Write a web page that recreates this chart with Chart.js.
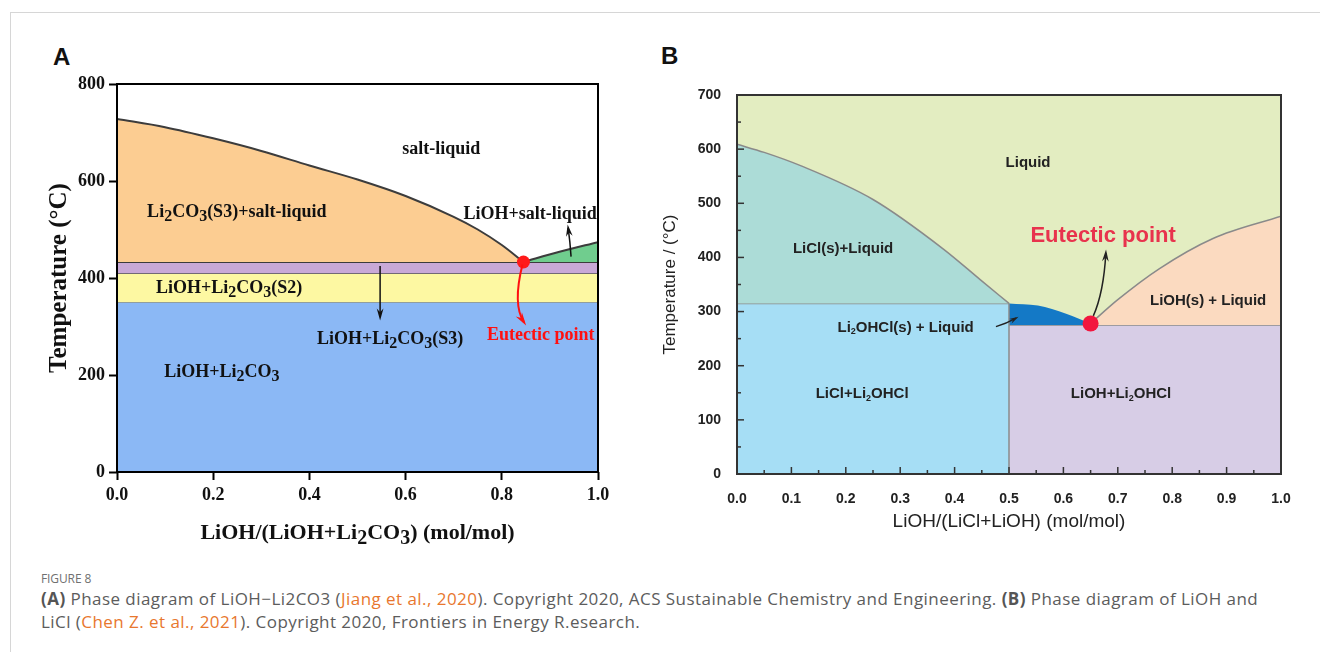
<!DOCTYPE html>
<html>
<head>
<meta charset="utf-8">
<script src="https://cdn.jsdelivr.net/npm/chart.js@4.4.1/dist/chart.umd.min.js"></script>
<style>
body{margin:0;background:#fff;width:1320px;height:652px;position:relative;overflow:hidden;font-family:"Open Sans",sans-serif}
#frame{position:absolute;left:10px;top:12px;right:0;bottom:0;border-left:1px solid #d6d6d6;border-top:1px solid #d6d6d6}
.pl{position:absolute;font:bold 24px "Liberation Sans",Arial,sans-serif;color:#111}
canvas{position:absolute}
#fig{position:absolute;left:41px;top:570px;font-size:12px;color:#707070;letter-spacing:-0.1px}
#cap{position:absolute;left:41px;top:587px;width:1270px;font-size:17px;line-height:23px;color:#5c5c5c;letter-spacing:0.45px;white-space:nowrap}
#cap b{color:#555}
#cap span{color:#e8772e}
</style>
</head>
<body>
<div id="frame"></div>
<div class="pl" style="left:53px;top:43px">A</div>
<div class="pl" style="left:661px;top:42px">B</div>
<canvas id="chartA" width="640" height="520" style="left:0;top:40px"></canvas>
<canvas id="chartB" width="680" height="520" style="left:640px;top:40px"></canvas>
<div id="fig">FIGURE 8</div>
<div id="cap"><b>(A)</b> Phase diagram of LiOH−Li2CO3 (<span>Jiang et al., 2020</span>). Copyright 2020, ACS Sustainable Chemistry and Engineering. <b>(B)</b> Phase diagram of LiOH and<br>LiCl (<span>Chen Z. et al., 2021</span>). Copyright 2020, Frontiers in Energy R.esearch.</div>
<script>
// ---- panel A : LiOH - Li2CO3 ----
const aLiquidusX = [0, 0.1, 0.2, 0.3, 0.4, 0.5, 0.6, 0.7, 0.75, 0.8, 0.845]
const aLiquidusT = [728, 711, 688, 662, 632, 603, 569, 526, 500, 468, 433]
const aLiohX = [0.845, 0.92, 1.0]
const aLiohT = [433, 454, 474]
const aEutectic = [0.845, 433]
const aBands = [350, 410, 433]   // S3 / S2 / transition
const aXTicks = [0, 0.2, 0.4, 0.6, 0.8, 1.0]
const aYTicks = [0, 200, 400, 600, 800]

// ---- panel B : LiOH - LiCl ----
const bLiclX = [0, 0.05, 0.118, 0.25, 0.38, 0.447, 0.5]
const bLiclT = [609, 594, 569, 507, 415, 359, 315]
const bOhclX = [0.5, 0.553, 0.605, 0.65]
const bOhclT = [315, 311, 296, 278]
const bLiohX = [0.65, 0.7, 0.776, 0.875, 1.0]
const bLiohT = [278, 322, 379, 435, 476]
const bEutectic = [0.65, 278]
const bSolidus = [315, 275]      // LiCl+Li2OHCl top, LiOH+Li2OHCl top
const bSplit = 0.5
const bXMax = 1.0, bYMax = 700

const pts = (xs, ys) => xs.map((x, i) => ({x: x, y: ys[i]}))
const flat = (x0, x1, t) => [{x: x0, y: t}, {x: x1, y: t}]

// text with "_c" = subscript c
function rich(ctx, str, x, y, size, family, weight, color, align, sub) {
  sub = sub || 0.82
  const segs = []
  for (let i = 0; i < str.length; i++) {
    if (str[i] == '_') { segs.push([str[i + 1], 1]); i++ }
    else if (segs.length && segs[segs.length - 1][1] == 0) segs[segs.length - 1][0] += str[i]
    else segs.push([str[i], 0])
  }
  const f0 = weight + ' ' + size + 'px ' + family
  const f1 = weight + ' ' + Math.round(size * sub) + 'px ' + family
  let w = 0
  segs.forEach(s => { ctx.font = s[1] ? f1 : f0; w += ctx.measureText(s[0]).width })
  let cx = align == 'left' ? x : x - w / 2
  ctx.fillStyle = color
  ctx.textAlign = 'left'
  ctx.textBaseline = 'middle'
  segs.forEach(s => {
    ctx.font = s[1] ? f1 : f0
    ctx.fillText(s[0], cx, s[1] ? y + size * 0.28 : y)
    cx += ctx.measureText(s[0]).width
  })
}

function arrow(ctx, p0, c, p1, color, lw, head) {
  ctx.save()
  ctx.strokeStyle = color; ctx.fillStyle = color; ctx.lineWidth = lw
  ctx.beginPath(); ctx.moveTo(p0[0], p0[1]); ctx.quadraticCurveTo(c[0], c[1], p1[0], p1[1]); ctx.stroke()
  const ang = Math.atan2(p1[1] - c[1], p1[0] - c[0])
  ctx.beginPath()
  ctx.moveTo(p1[0] + Math.cos(ang) * head * 0.4, p1[1] + Math.sin(ang) * head * 0.4)
  ctx.lineTo(p1[0] - Math.cos(ang - 0.38) * head, p1[1] - Math.sin(ang - 0.38) * head)
  ctx.lineTo(p1[0] - Math.cos(ang) * head * 0.5, p1[1] - Math.sin(ang) * head * 0.5)
  ctx.lineTo(p1[0] - Math.cos(ang + 0.38) * head, p1[1] - Math.sin(ang + 0.38) * head)
  ctx.closePath(); ctx.fill()
  ctx.restore()
}

const serif = '"Liberation Serif","Times New Roman",serif'
const sans = '"Liberation Sans",Arial,sans-serif'

const labelsA = {
  id: 'labelsA',
  afterDraw(chart) {
    const {ctx, chartArea: a, scales: {x, y}} = chart
    const P = (u, t) => [x.getPixelForValue(u), y.getPixelForValue(t)]
    ctx.save()
    ctx.strokeStyle = '#000'; ctx.lineWidth = 2
    ctx.strokeRect(a.left, a.top, a.right - a.left, a.bottom - a.top)
    const L = (s, u, t, c) => { const p = P(u, t); rich(ctx, s, p[0], p[1], 18, serif, 'bold', c || '#111', 'center', 0.9) }
    L('salt-liquid', 0.674, 666)
    L('Li_2CO_3(S3)+salt-liquid', 0.249, 536)
    L('LiOH+salt-liquid', 0.859, 532)
    L('LiOH+Li_2CO_3(S2)', 0.233, 379)
    L('LiOH+Li_2CO_3(S3)', 0.568, 274)
    L('Eutectic point', 0.881, 282, '#ff1010')
    L('LiOH+Li_2CO_3', 0.218, 206)
    arrow(ctx, P(0.547, 425), P(0.547, 375), P(0.547, 320), '#111', 1.5, 9)
    arrow(ctx, P(0.944, 444), P(0.942, 475), P(0.938, 503), '#111', 1.5, 9)
    arrow(ctx, P(0.843, 428), P(0.822, 345), P(0.846, 309), '#ff1010', 2, 10)
    // axis titles
    rich(ctx, 'LiOH/(LiOH+Li_2CO_3) (mol/mol)', (a.left + a.right) / 2, 493, 22, serif, 'bold', '#111', 'center', 0.9)
    ctx.translate(60, (a.top + a.bottom) / 2); ctx.rotate(-Math.PI / 2)
    rich(ctx, 'Temperature (°C)', 0, 0, 25, serif, 'bold', '#111', 'center')
    ctx.restore()
  }
}

const labelsB = {
  id: 'labelsB',
  afterDraw(chart) {
    const {ctx, chartArea: a, scales: {x, y}} = chart
    const P = (u, t) => [x.getPixelForValue(u), y.getPixelForValue(t)]
    ctx.save()
    // inside tick marks
    ctx.strokeStyle = '#333'; ctx.lineWidth = 1.5
    for (let v = 0; v <= bXMax + 1e-9; v += 0.05) {
      const px = x.getPixelForValue(v), big = Math.round(v * 100) % 10 == 0
      ctx.beginPath(); ctx.moveTo(px, a.bottom); ctx.lineTo(px, a.bottom - (big ? 7 : 4)); ctx.stroke()
    }
    for (let v = 0; v <= bYMax; v += 50) {
      const py = y.getPixelForValue(v), big = v % 100 == 0
      ctx.beginPath(); ctx.moveTo(a.left, py); ctx.lineTo(a.left + (big ? 7 : 4), py); ctx.stroke()
    }
    ctx.lineWidth = 2
    ctx.strokeRect(a.left, a.top, a.right - a.left, a.bottom - a.top)
    const L = (s, u, t) => { const p = P(u, t); rich(ctx, s, p[0], p[1], 15, sans, 'bold', '#222', 'center', 0.6) }
    L('Liquid', 0.535, 574)
    L('LiCl(s)+Liquid', 0.195, 416)
    L('LiOH(s) + Liquid', 0.866, 320)
    L('Li_2OHCl(s) + Liquid', 0.31, 270)
    L('LiCl+Li_2OHCl', 0.23, 148)
    L('LiOH+Li_2OHCl', 0.706, 148)
    const e = P(0.673, 440)
    rich(ctx, 'Eutectic point', e[0], e[1], 22, sans, 'bold', '#e8334d', 'center')
    arrow(ctx, P(0.476, 272), P(0.495, 278), P(0.513, 288), '#222', 1.3, 7)
    arrow(ctx, P(0.655, 292), P(0.674, 335), P(0.678, 408), '#222', 1.5, 9)
    // axis titles
    rich(ctx, 'LiOH/(LiCl+LiOH) (mol/mol)', (a.left + a.right) / 2, 482, 19, sans, 'normal', '#222', 'center')
    ctx.translate(30, (a.top + a.bottom) / 2); ctx.rotate(-Math.PI / 2)
    rich(ctx, 'Temperature / (°C)', 0, 0, 17, sans, 'normal', '#222', 'center')
    ctx.restore()
  }
}

const base = {type: 'line', pointRadius: 0, borderWidth: 0, cubicInterpolationMode: 'monotone'}

new Chart(document.getElementById('chartA'), {
  type: 'line',
  data: {datasets: [
    {data: [{x: aEutectic[0], y: aEutectic[1]}], showLine: false, pointRadius: 6.5, pointBackgroundColor: '#ff1a1a', pointBorderWidth: 0},
    {...base, data: pts(aLiohX, aLiohT), fill: {value: aBands[2]}, backgroundColor: '#70cd8e', borderColor: '#3c3c3c', borderWidth: 2},
    {...base, data: pts(aLiquidusX, aLiquidusT), fill: {value: aBands[2]}, backgroundColor: '#fccd92', borderColor: '#3c3c3c', borderWidth: 2},
    {...base, data: flat(0, 1, aBands[2]), fill: {value: aBands[1]}, backgroundColor: '#c9a9d7', borderColor: '#3c3c3c', borderWidth: 2},
    {...base, data: flat(0, 1, aBands[1]), fill: {value: aBands[0]}, backgroundColor: '#fdf8a2', borderColor: '#555', borderWidth: 1.5},
    {...base, data: flat(0, 1, aBands[0]), fill: 'origin', backgroundColor: '#8bb8f5', borderColor: '#5a6a80', borderWidth: 1}
  ]},
  options: {
    responsive: false, animation: false,
    layout: {padding: {top: 44, right: 42, left: 0, bottom: 0}},
    plugins: {legend: {display: false}, tooltip: {enabled: false}},
    scales: {
      x: {type: 'linear', min: 0, max: 1,
        afterFit: s => { s.height = 88 },
        afterBuildTicks: s => { s.ticks = aXTicks.map(v => ({value: v})) },
        ticks: {callback: v => v.toFixed(1), font: {family: serif, weight: 'bold', size: 18}, color: '#111', padding: 5, maxRotation: 0},
        grid: {drawOnChartArea: false, tickLength: 8, tickWidth: 2, tickColor: '#000'},
        border: {display: false}},
      y: {min: 0, max: 800,
        afterFit: s => { s.width = 117 },
        afterBuildTicks: s => { s.ticks = aYTicks.map(v => ({value: v})) },
        ticks: {font: {family: serif, weight: 'bold', size: 18}, color: '#111', padding: 4},
        grid: {drawOnChartArea: false, tickLength: 8, tickWidth: 2, tickColor: '#000'},
        border: {display: false}}
    }
  },
  plugins: [labelsA]
})

new Chart(document.getElementById('chartB'), {
  type: 'line',
  data: {datasets: [
    {data: [{x: bEutectic[0], y: bEutectic[1]}], showLine: false, pointRadius: 8, pointBackgroundColor: '#f2163e', pointBorderWidth: 0},
    {...base, data: [{x: bSplit, y: 0}, {x: bSplit, y: bSolidus[0]}], borderColor: '#8a8a8a', borderWidth: 1.5},
    {...base, data: pts(bLiohX, bLiohT), fill: {value: bSolidus[1]}, backgroundColor: '#fbdac0', borderColor: '#8a8a8a', borderWidth: 1.5},
    {...base, data: pts(bOhclX, bOhclT), fill: {value: bSolidus[1]}, backgroundColor: '#1479c6'},
    {...base, data: pts(bLiclX, bLiclT), fill: {value: bSolidus[0]}, backgroundColor: '#acdcd7', borderColor: '#8a8a8a', borderWidth: 1.5},
    {...base, data: flat(0, bSplit, bSolidus[0]), fill: 'origin', backgroundColor: '#a6def5', borderColor: '#8a8a8a', borderWidth: 1.5},
    {...base, data: flat(bSplit, 1, bSolidus[1]), fill: 'origin', backgroundColor: '#d7cde6', borderColor: '#8a8a8a', borderWidth: 1.5},
    {...base, data: flat(0, 1, bYMax), fill: 'origin', backgroundColor: '#e3edc1'}
  ]},
  options: {
    responsive: false, animation: false,
    layout: {padding: {top: 55, right: 39, left: 0, bottom: 0}},
    plugins: {legend: {display: false}, tooltip: {enabled: false}},
    scales: {
      x: {type: 'linear', min: 0, max: bXMax,
        afterFit: s => { s.height = 86 },
        ticks: {stepSize: 0.1, callback: v => v.toFixed(1), font: {family: sans, weight: 'bold', size: 14}, color: '#222', padding: 9, maxRotation: 0},
        grid: {display: false}, border: {display: false}},
      y: {min: 0, max: bYMax,
        afterFit: s => { s.width = 97 },
        ticks: {stepSize: 100, font: {family: sans, weight: 'bold', size: 14}, color: '#222', padding: 8},
        grid: {display: false}, border: {display: false}}
    }
  },
  plugins: [labelsB]
})
</script>
</body>
</html>
